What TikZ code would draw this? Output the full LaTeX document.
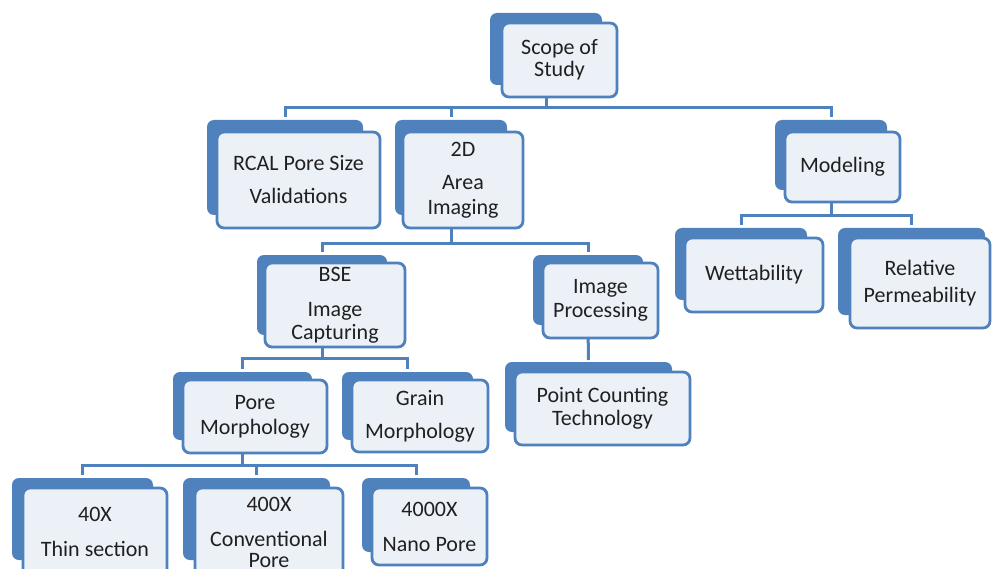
\documentclass[tikz,border=0pt]{standalone}
\usepackage{fontspec}
\setmainfont{Carlito}
\usetikzlibrary{calc}
\definecolor{accblue}{HTML}{4F81BD}
\definecolor{boxfill}{HTML}{ECF1F8}
\definecolor{txt}{HTML}{202020}
\pgfdeclarelayer{bg}
\pgfsetlayers{bg,main}
\newcommand\mkbox[9]{%
  \pgfmathsetmacro\bw{#4-#2}\pgfmathsetmacro\bh{#5-#3}%
  \pgfmathsetmacro\bx{(#2+#4)/2}\pgfmathsetmacro\by{(#3+#5)/2}%
  \node[backbox, minimum width=\bw pt, minimum height=\bh pt] (#1B) at (\bx,\by) {};
  \pgfmathsetmacro\fw{#8-#6}\pgfmathsetmacro\fh{#9-#7}%
  \pgfmathsetmacro\fx{(#6+#8)/2}\pgfmathsetmacro\fy{(#7+#9)/2}%
  \node[frontbox, minimum width=\fw pt, minimum height=\fh pt] (#1) at (\fx,\fy) {};
}
\tikzset{
  backbox/.style={fill=accblue, rounded corners=7pt, inner sep=0pt, outer sep=0pt},
  frontbox/.style={fill=boxfill, draw=accblue, line width=2.8pt, rounded corners=7pt, inner sep=0pt, outer sep=0pt},
  lbl/.style={font=\fontsize{22}{25}\selectfont, align=center, text=txt, inner sep=0pt},
  conn/.style={draw=accblue, line width=3pt},
}
\begin{document}
\begin{tikzpicture}[x=1pt,y=-1pt]
\useasboundingbox (0,0) rectangle (992,569);
\begin{pgfonlayer}{bg}
\fill[white] (0,0) rectangle (992,569);
\end{pgfonlayer}
\mkbox{scope}{490}{13}{602}{85}{502}{23}{617}{97}
\mkbox{rcal}{207}{120}{363}{215}{217}{132}{380}{228}
\mkbox{twod}{395}{120}{507}{215}{403}{132}{523}{228}
\mkbox{model}{775}{120}{887}{190}{785}{132}{900}{202}
\mkbox{bse}{257}{255}{387}{335}{265}{263}{405}{347}
\mkbox{improc}{533}{255}{643}{325}{543}{263}{658}{338}
\mkbox{point}{505}{362}{672}{432}{515}{372}{690}{445}
\mkbox{wett}{675}{228}{807}{300}{685}{238}{823}{312}
\mkbox{relperm}{838}{228}{985}{315}{850}{238}{990}{328}
\mkbox{pore}{173}{372}{312}{440}{183}{380}{327}{453}
\mkbox{grain}{342}{372}{473}{440}{352}{380}{488}{452}
\mkbox{xa}{12}{478}{153}{560}{23}{488}{167}{576}
\mkbox{xb}{183}{478}{330}{560}{195}{488}{343}{576}
\mkbox{xc}{362}{478}{470}{552}{372}{488}{487}{565}

\node[lbl] (scopeT) at (scope) {Scope of\\[-3pt]Study};
\node[lbl] (rcalT) at (rcal) {RCAL Pore Size\\[8pt]Validations};
\node[lbl] (twodT) at (twod) {2D\\[8pt]Area\\Imaging};
\node[lbl] (modelT) at (model) {Modeling};
\node[lbl] (bseT) at (bse) {BSE\\[10pt]Image\\[-2pt]Capturing};
\node[lbl] (improcT) at (improc) {Image\\[-1pt]Processing};
\node[lbl] (pointT) at (point) {Point Counting\\[-2pt]Technology};
\node[lbl] (wettT) at (wett) {Wettability};
\node[lbl] (relpermT) at (relperm) {Relative\\[2pt]Permeability};
\node[lbl] (poreT) at (pore) {Pore\\Morphology};
\node[lbl] (grainT) at (grain) {Grain\\[8pt]Morphology};
\node[lbl] (xaT) at (xa) {40X\\[10pt]Thin section};
\node[lbl] (xbT) at (xb) {400X\\[10pt]Conventional\\[-4pt]Pore};
\node[lbl] (xcT) at (xc) {4000X\\[10pt]Nano Pore};

\coordinate (busA) at (0,108);
\coordinate (busB) at (0,243);
\coordinate (busC) at (0,216);
\coordinate (busD) at (0,358);
\coordinate (busE) at (0,465);

\begin{pgfonlayer}{bg}
\draw[conn] (scopeB.south) -- (scopeB.south |- busA);
\draw[conn, shorten <=3pt, shorten >=3pt] (rcalB.north) |- (busA -| modelB.north) -- (modelB.north);
\draw[conn, shorten <=3pt] (twodB.north) -- (twodB.north |- busA);

\draw[conn] (twodB.south) -- (twodB.south |- busB);
\draw[conn, shorten <=3pt, shorten >=3pt] (bseB.north) |- (busB -| improcB.north) -- (improcB.north);

\draw[conn] (modelB.south) -- (modelB.south |- busC);
\draw[conn, shorten <=3pt, shorten >=3pt] (wettB.north) |- (busC -| relpermB.north) -- (relpermB.north);

\draw[conn, shorten >=2pt] (improcB.south) -- (pointB.north);

\draw[conn] (bseB.south) -- (bseB.south |- busD);
\draw[conn, shorten <=3pt, shorten >=3pt] (poreB.north) |- (busD -| grainB.north) -- (grainB.north);

\draw[conn] (poreB.south) -- (poreB.south |- busE);
\draw[conn, shorten <=3pt, shorten >=3pt] (xaB.north) |- (busE -| xcB.north) -- (xcB.north);
\draw[conn, shorten <=3pt] (xbB.north) -- (xbB.north |- busE);
\end{pgfonlayer}
\end{tikzpicture}
\end{document}
